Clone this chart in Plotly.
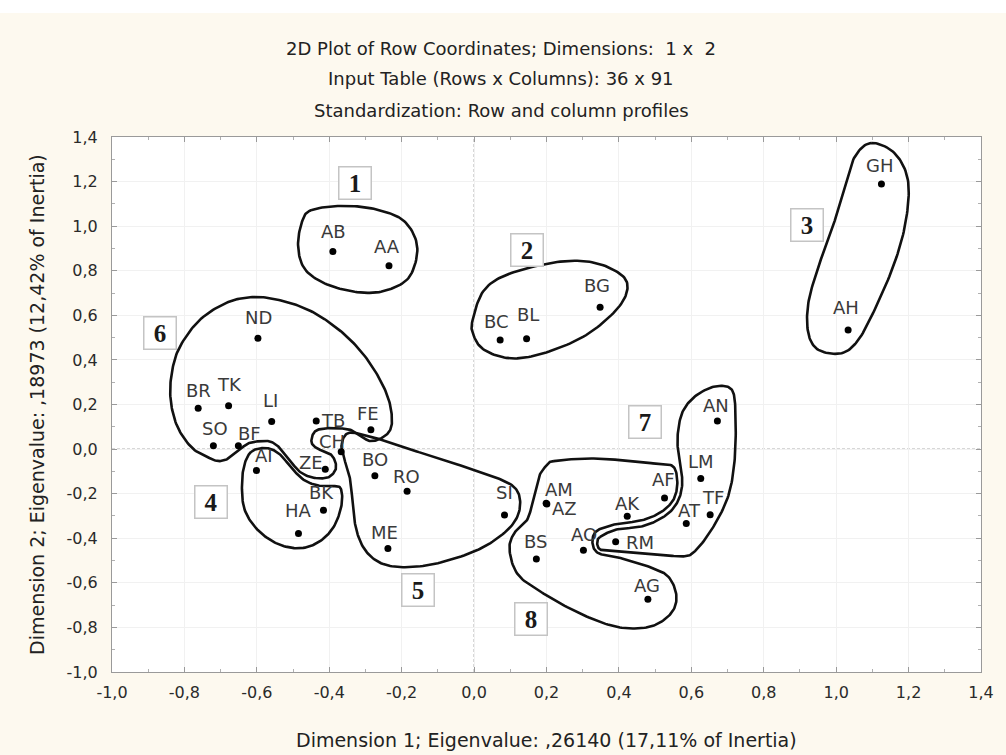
import numpy as np
import plotly.graph_objects as go

# ---------------- data ----------------
row_names = ["AB", "AA", "GH", "AH", "BG", "BC", "BL", "ND", "BR", "TK", "LI", "SO",
             "BF", "TB", "FE", "CH", "AI", "ZE", "BO", "RO", "BK", "HA", "ME", "SI",
             "AM", "AZ", "BS", "AO", "AK", "RM", "AF", "AT", "TF", "LM", "AN", "AG"]
dim1 = [-0.390, -0.235, 1.125, 1.033, 0.348, 0.072, 0.145, -0.597, -0.762, -0.678, -0.559, -0.720,
        -0.651, -0.436, -0.285, -0.367, -0.601, -0.411, -0.274, -0.185, -0.416, -0.485, -0.238, 0.084,
        0.199, 0.201, 0.172, 0.302, 0.423, 0.391, 0.526, 0.586, 0.652, 0.626, 0.672, 0.480]
dim2 = [0.886, 0.822, 1.189, 0.534, 0.636, 0.489, 0.495, 0.497, 0.183, 0.194, 0.124, 0.015,
        0.015, 0.126, 0.087, -0.012, -0.096, -0.090, -0.120, -0.189, -0.274, -0.379, -0.446, -0.296,
        -0.243, -0.246, -0.493, -0.454, -0.301, -0.416, -0.219, -0.334, -0.295, -0.132, 0.126, -0.674]

tick_values = [-1.0, -0.8, -0.6, -0.4, -0.2, 0.0, 0.2, 0.4, 0.6, 0.8, 1.0, 1.2, 1.4]
tick_labels = ["-1,0", "-0,8", "-0,6", "-0,4", "-0,2", "0,0", "0,2", "0,4", "0,6", "0,8", "1,0", "1,2", "1,4"]

# hand-drawn cluster outlines (control points in data units)
cluster1_x = [-0.448, -0.356, -0.265, -0.192, -0.157, -0.178, -0.238, -0.311, -0.402, -0.466, -0.486, -0.475]
cluster1_y = [1.073, 1.091, 1.073, 1.021, 0.908, 0.774, 0.714, 0.702, 0.736, 0.804, 0.908, 1.021]
cluster2_x = [-0.004, 0.028, 0.101, 0.238, 0.338, 0.412, 0.421, 0.384, 0.302, 0.192, 0.101, 0.028, -0.002]
cluster2_y = [0.579, 0.714, 0.789, 0.841, 0.834, 0.774, 0.699, 0.609, 0.504, 0.430, 0.407, 0.445, 0.512]
cluster3_x = [1.097, 1.161, 1.198, 1.193, 1.161, 1.106, 1.061, 1.015, 0.951, 0.923, 0.923, 0.951, 0.988, 1.024, 1.052]
cluster3_y = [1.373, 1.328, 1.208, 1.028, 0.834, 0.624, 0.489, 0.430, 0.445, 0.520, 0.654, 0.819, 0.983, 1.178, 1.313]
cluster4_x = [-0.616, -0.588, -0.561, -0.534, -0.506, -0.473, -0.435, -0.396, -0.369, -0.366, -0.388, -0.430,
              -0.484, -0.547, -0.602, -0.635, -0.641, -0.633]
cluster4_y = [-0.013, 0.004, 0.000, -0.027, -0.081, -0.135, -0.162, -0.166, -0.175, -0.251, -0.350, -0.418,
              -0.445, -0.422, -0.355, -0.265, -0.148, -0.063]
cluster5_x = [-0.366, -0.347, -0.292, -0.210, -0.128, -0.032, 0.064, 0.111, 0.127, 0.119, 0.083, 0.009,
              -0.100, -0.191, -0.257, -0.301, -0.325, -0.334, -0.342, -0.356]
cluster5_y = [0.018, 0.072, 0.058, 0.018, -0.027, -0.076, -0.130, -0.171, -0.229, -0.305, -0.377, -0.453,
              -0.512, -0.530, -0.512, -0.453, -0.364, -0.260, -0.139, -0.058]
cluster6_x = [-0.731, -0.778, -0.819, -0.838, -0.835, -0.813, -0.758, -0.684, -0.613, -0.539, -0.457, -0.383,
              -0.320, -0.270, -0.238, -0.227, -0.232, -0.256, -0.287, -0.312, -0.339, -0.383, -0.424, -0.443,
              -0.449, -0.435, -0.410, -0.394, -0.383, -0.383, -0.402, -0.438, -0.476, -0.503, -0.531, -0.558,
              -0.586, -0.621, -0.649, -0.676, -0.704]
cluster6_y = [-0.040, 0.004, 0.099, 0.220, 0.341, 0.458, 0.579, 0.656, 0.682, 0.669, 0.624, 0.548,
              0.453, 0.341, 0.233, 0.144, 0.085, 0.049, 0.036, 0.058, 0.085, 0.094, 0.090, 0.072,
              0.031, 0.004, -0.013, -0.027, -0.058, -0.094, -0.126, -0.130, -0.108, -0.063, -0.004, 0.031,
              0.036, 0.027, -0.004, -0.040, -0.054]
cluster7_x = [0.348, 0.393, 0.457, 0.508, 0.546, 0.568, 0.575, 0.566, 0.562, 0.574, 0.604, 0.649, 0.690,
              0.715, 0.722, 0.721, 0.709, 0.686, 0.649, 0.613, 0.585, 0.521, 0.439, 0.375, 0.348, 0.340]
cluster7_y = [-0.394, -0.361, -0.349, -0.319, -0.274, -0.214, -0.139, -0.049, 0.055, 0.160, 0.228, 0.273, 0.283,
              0.257, 0.160, -0.019, -0.169, -0.274, -0.379, -0.453, -0.480, -0.476, -0.466, -0.457, -0.450, -0.423]
cluster8_x = [0.220, 0.311, 0.402, 0.494, 0.548, 0.561, 0.556, 0.537, 0.502, 0.454, 0.391, 0.338, 0.327,
              0.343, 0.393, 0.485, 0.535, 0.558, 0.550, 0.508, 0.448, 0.375, 0.284, 0.192, 0.122, 0.098,
              0.110, 0.146, 0.163, 0.179, 0.201]
cluster8_y = [-0.054, -0.042, -0.049, -0.064, -0.076, -0.139, -0.207, -0.256, -0.296, -0.323, -0.337, -0.368, -0.422,
              -0.467, -0.484, -0.529, -0.570, -0.648, -0.723, -0.783, -0.805, -0.790, -0.731, -0.648, -0.565, -0.454,
              -0.379, -0.319, -0.229, -0.124, -0.072]
outlines = [(cluster1_x, cluster1_y), (cluster2_x, cluster2_y), (cluster3_x, cluster3_y),
            (cluster4_x, cluster4_y), (cluster5_x, cluster5_y), (cluster6_x, cluster6_y),
            (cluster7_x, cluster7_y), (cluster8_x, cluster8_y)]

cluster_numbers = ["1", "2", "3", "4", "5", "6", "7", "8"]
number_x = [-0.329, 0.146, 0.919, -0.726, -0.155, -0.868, 0.471, 0.156]
number_y = [1.193, 0.893, 1.006, -0.237, -0.633, 0.520, 0.122, -0.760]

# label offsets in pixels (dx right, dy down) relative to each point
label_offsets = {
    "AB": (1, -20), "AA": (-2, -19), "GH": (-2, -19), "AH": (-2, -23), "BG": (-3, -22),
    "BC": (-4, -19), "BL": (1, -24), "ND": (1, -21), "BR": (0, -18), "TK": (1, -21),
    "LI": (-1, -21), "SO": (2, -17), "BF": (11, -12), "TB": (17, -1), "FE": (-3, -16),
    "CH": (-9, -10), "AI": (8, -15), "ZE": (-14, -7), "BO": (0, -16), "RO": (-1, -15),
    "BK": (-2, -18), "HA": (0, -23), "ME": (-3, -16), "SI": (0, -23), "AM": (13, -14),
    "AZ": (18, 5), "AK": (0, -13), "AO": (1, -16), "BS": (-1, -17), "RM": (24, 1),
    "AF": (-1, -18), "AT": (3, -13), "TF": (3, -17), "LM": (0, -17), "AN": (-1, -16),
    "AG": (-1, -14),
}


def closed_spline(xs, ys, steps=14):
    P = np.column_stack([xs, ys])
    n = len(P)
    out = []
    for i in range(n):
        p0, p1, p2, p3 = P[(i - 1) % n], P[i], P[(i + 1) % n], P[(i + 2) % n]
        for t in np.linspace(0, 1, steps, endpoint=False):
            t2, t3 = t * t, t * t * t
            pt = 0.5 * ((2 * p1) + (-p0 + p2) * t + (2 * p0 - 5 * p1 + 4 * p2 - p3) * t2
                        + (-p0 + 3 * p1 - 3 * p2 + p3) * t3)
            out.append(pt)
    out.append(out[0])
    out = np.array(out)
    return out[:, 0], out[:, 1]


FONT = "DejaVu Sans, Arial, sans-serif"
fig = go.Figure()

for xs, ys in outlines:
    sx, sy = closed_spline(xs, ys)
    fig.add_trace(go.Scatter(x=sx, y=sy, mode="lines", line=dict(color="#111111", width=2.6),
                             hoverinfo="skip", showlegend=False))

fig.add_trace(go.Scatter(x=dim1, y=dim2, mode="markers", text=row_names,
                         marker=dict(color="black", size=7), showlegend=False))

annotations = []
for name, x, y in zip(row_names, dim1, dim2):
    dx, dy = label_offsets[name]
    annotations.append(dict(x=x, y=y, xref="x", yref="y", text=name, showarrow=False,
                            xshift=dx, yshift=-dy, font=dict(family=FONT, size=18, color="#3a3a3a")))

for t, x, y in zip(cluster_numbers, number_x, number_y):
    annotations.append(dict(x=x, y=y, xref="x", yref="y", text="<b>%s</b>" % t, showarrow=False,
                            font=dict(family="Liberation Serif, Times New Roman, serif", size=25, color="#1a1a1a"),
                            bgcolor="white", bordercolor="#c4c4c4", borderwidth=1.5, borderpad=2, width=27))

titles = ["2D Plot of Row Coordinates; Dimensions:  1 x  2",
          "Input Table (Rows x Columns): 36 x 91",
          "Standardization: Row and column profiles"]
for t, yp in zip(titles, [1.166, 1.110, 1.050]):
    annotations.append(dict(x=0.448, y=yp, xref="paper", yref="paper", text=t, showarrow=False,
                            yanchor="middle", font=dict(family=FONT, size=18, color="#222222")))

annotations.append(dict(x=0.5, y=-0.127, xref="paper", yref="paper",
                        text="Dimension 1; Eigenvalue: ,26140 (17,11% of Inertia)", showarrow=False,
                        yanchor="middle", font=dict(family=FONT, size=19, color="#222222")))
annotations.append(dict(x=-0.087, y=0.5, xref="paper", yref="paper", textangle=-90,
                        text="Dimension 2; Eigenvalue: ,18973 (12,42% of Inertia)", showarrow=False,
                        xanchor="center", yanchor="middle", font=dict(family=FONT, size=19, color="#222222")))

shapes = [
    dict(type="rect", xref="paper", yref="paper", x0=-0.2, x1=1.1, y0=1.232, y1=1.3,
         fillcolor="white", line=dict(width=0), layer="below"),
    dict(type="line", xref="x", yref="paper", x0=0, x1=0, y0=0, y1=1,
         line=dict(color="#a0a0a0", width=1, dash="3px,2px"), layer="below"),
    dict(type="line", xref="paper", yref="y", x0=0, x1=1, y0=0, y1=0,
         line=dict(color="#a0a0a0", width=1, dash="3px,2px"), layer="below"),
]

axis_common = dict(
    tickvals=tick_values, ticktext=tick_labels, showgrid=True, gridcolor="#f1f1f1", gridwidth=1,
    zeroline=False, showline=True, linecolor="#9a9a9a", linewidth=1, mirror="ticks",
    ticks="inside", ticklen=5, tickcolor="#9a9a9a",
    minor=dict(ticks="inside", ticklen=3, dtick=0.1, tickcolor="#b0b0b0", showgrid=False),
    tickfont=dict(family=FONT, size=16, color="#2a2a2a"),
)
fig.update_xaxes(range=[-1.0, 1.4], ticklabelstandoff=6, **axis_common)
fig.update_yaxes(range=[-1.0, 1.4], ticklabelstandoff=10, **axis_common)

fig.update_layout(
    width=1006, height=755,
    margin=dict(l=112, r=19, t=137, b=83),
    paper_bgcolor="#fdf9ef", plot_bgcolor="white",
    annotations=annotations, shapes=shapes, showlegend=False,
)

fig.write_html("out.html")
